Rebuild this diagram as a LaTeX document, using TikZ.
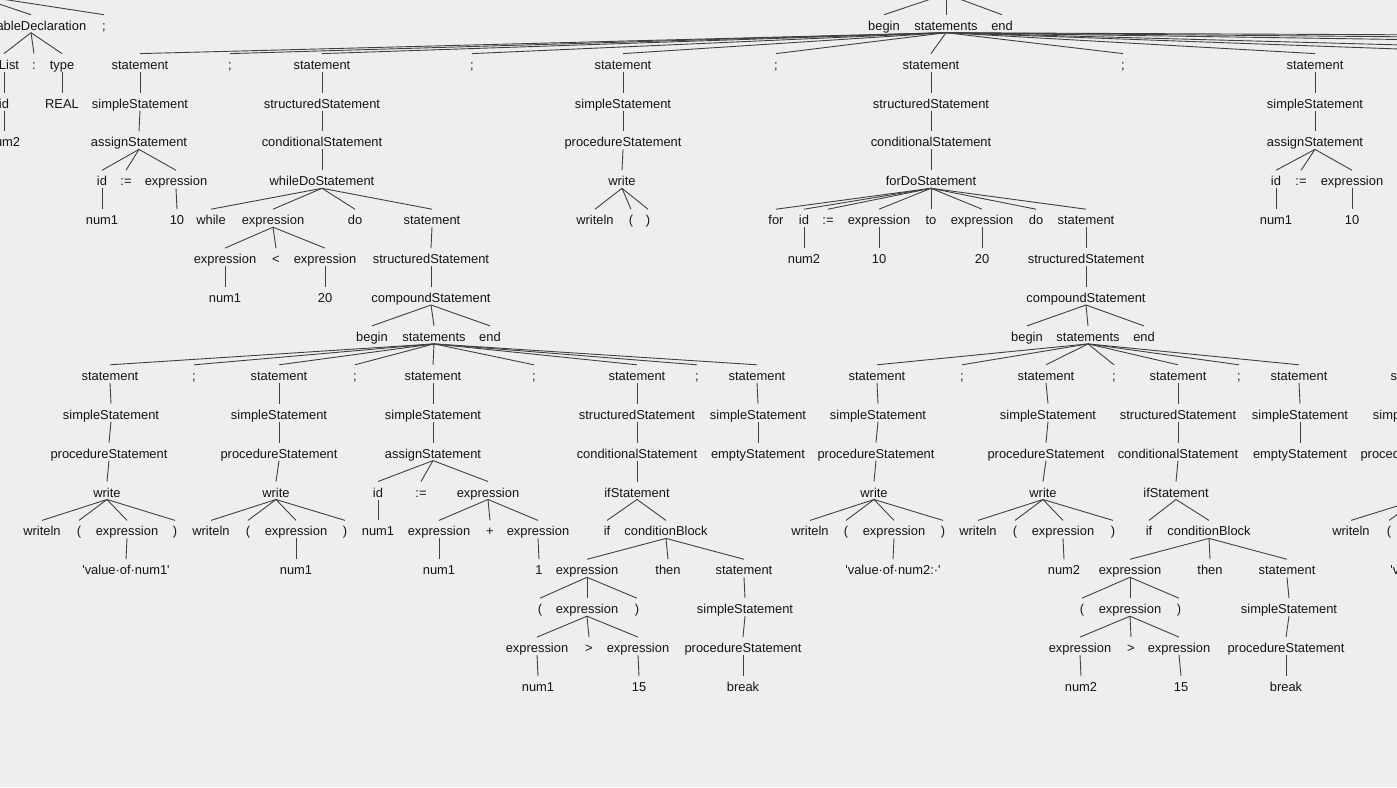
\documentclass[tikz,border=0pt]{standalone}
\usepackage{fontspec}
\newfontfamily\tf{Liberation Sans}
\definecolor{bgc}{RGB}{238,238,238}
\definecolor{lnc}{RGB}{64,64,64}
\definecolor{txc}{RGB}{20,20,20}
\tikzset{
  t/.style={anchor=base,inner sep=0pt,text=txc,font=\tf\fontsize{12.9}{14}\selectfont},
  ln/.style={draw=lnc,line width=0.9pt}
}
\newcommand\tnode[4]{\node[t] (#1) at (#2,{30.2+38.9*#3}) {#4};}
\newcommand\tedges[2]{\foreach \kid in {#2}{\draw[ln] ([yshift=-2.5pt]#1.base) -- ([yshift=15.5pt]\kid.base);}}
\begin{document}
\begin{tikzpicture}[x=1pt,y=-1pt]
\useasboundingbox (0,0) rectangle (1397,787);
\fill[bgc] (0,0) rectangle (1397,787);
\clip (0,0) rectangle (1397,787);
% ---------- top left (variable declaration) ----------
\coordinate (vp) at (-31,-6);
\tnode{vd}{31}{0}{variableDeclaration}
\tnode{vs}{104}{0}{;}
\tnode{il}{4}{1}{idList}
\tnode{co}{34}{1}{:}
\tnode{ty}{62}{1}{type}
\tnode{id0}{4}{2}{id}
\tnode{re}{62}{2}{REAL}
\tnode{n0}{4}{3}{num2}
\draw[ln] (vp) -- ([yshift=15.5pt]vd.base);
\draw[ln] (vp) -- ([yshift=15.5pt]vs.base);
\tedges{vd}{il,co,ty}
\tedges{il}{id0}
\tedges{ty}{re}
\tedges{id0}{n0}
% ---------- top compound statement ----------
\coordinate (cp) at (946,-6);
\tnode{bg}{884}{0}{begin}
\tnode{ss}{946}{0}{statements}
\tnode{en}{1002}{0}{end}
\draw[ln] (cp) -- ([yshift=15.5pt]bg.base);
\draw[ln] (cp) -- ([yshift=15.5pt]ss.base);
\draw[ln] (cp) -- ([yshift=15.5pt]en.base);
\tnode{s1}{140}{1}{statement}
\tnode{sc1}{230}{1}{;}
\tnode{s2}{322}{1}{statement}
\tnode{sc2}{472}{1}{;}
\tnode{s3}{623}{1}{statement}
\tnode{sc3}{776}{1}{;}
\tnode{s4}{931}{1}{statement}
\tnode{sc4}{1123}{1}{;}
\tnode{s5}{1315}{1}{statement}
\tedges{ss}{s1,sc1,s2,sc2,s3,sc3,s4,sc4,s5}
\coordinate (o1) at (1510,53);
\coordinate (o2) at (1700,53);
\coordinate (o3) at (2300,53);
\coordinate (o4) at (3200,53);
\coordinate (o5) at (5400,53);
\foreach \kid in {o1,o2,o3,o4,o5}{\draw[ln] ([yshift=-2.5pt]ss.base) -- (\kid);}
% ---------- s1 ----------
\tnode{s1ss}{140}{2}{simpleStatement}
\tnode{s1as}{139}{3}{assignStatement}
\tnode{s1id}{102}{4}{id}
\tnode{s1eq}{126}{4}{:=}
\tnode{s1ex}{176}{4}{expression}
\tnode{s1n}{102}{5}{num1}
\tnode{s1v}{177}{5}{10}
\tedges{s1}{s1ss}
\tedges{s1ss}{s1as}
\tedges{s1as}{s1id,s1eq,s1ex}
\tedges{s1id}{s1n}
\tedges{s1ex}{s1v}
% ---------- s2 (while) ----------
\tnode{s2st}{322}{2}{structuredStatement}
\tnode{s2cs}{322}{3}{conditionalStatement}
\tnode{wd}{322}{4}{whileDoStatement}
\tnode{wh}{211}{5}{while}
\tnode{we}{273}{5}{expression}
\tnode{wdo}{355}{5}{do}
\tnode{wst}{432}{5}{statement}
\tedges{s2}{s2st}
\tedges{s2st}{s2cs}
\tedges{s2cs}{wd}
\tedges{wd}{wh,we,wdo,wst}
\tnode{we1}{225}{6}{expression}
\tnode{wlt}{276}{6}{<}
\tnode{we2}{325}{6}{expression}
\tnode{wn}{225}{7}{num1}
\tnode{w20}{325}{7}{20}
\tedges{we}{we1,wlt,we2}
\tedges{we1}{wn}
\tedges{we2}{w20}
\tnode{wss}{431}{6}{structuredStatement}
\tnode{wcs}{431}{7}{compoundStatement}
\tnode{wb}{372}{8}{begin}
\tnode{wsts}{434}{8}{statements}
\tnode{wen}{490}{8}{end}
\tedges{wst}{wss}
\tedges{wss}{wcs}
\tedges{wcs}{wb,wsts,wen}
\tnode{a1}{110}{9}{statement}
\tnode{a2}{194}{9}{;}
\tnode{a3}{279}{9}{statement}
\tnode{a4}{355}{9}{;}
\tnode{a5}{433}{9}{statement}
\tnode{a6}{534}{9}{;}
\tnode{a7}{637}{9}{statement}
\tnode{a8}{697}{9}{;}
\tnode{a9}{757}{9}{statement}
\tedges{wsts}{a1,a2,a3,a4,a5,a6,a7,a8,a9}
% a1
\tnode{a1s}{111}{10}{simpleStatement}
\tnode{a1p}{109}{11}{procedureStatement}
\tnode{a1w}{107}{12}{write}
\tnode{a1wl}{42}{13}{writeln}
\tnode{a1lp}{79}{13}{(}
\tnode{a1e}{127}{13}{expression}
\tnode{a1rp}{175}{13}{)}
\tnode{a1str}{126}{14}{'value·of·num1'}
\tedges{a1}{a1s}
\tedges{a1s}{a1p}
\tedges{a1p}{a1w}
\tedges{a1w}{a1wl,a1lp,a1e,a1rp}
\tedges{a1e}{a1str}
% a3
\tnode{a3s}{279}{10}{simpleStatement}
\tnode{a3p}{279}{11}{procedureStatement}
\tnode{a3w}{276}{12}{write}
\tnode{a3wl}{211}{13}{writeln}
\tnode{a3lp}{248}{13}{(}
\tnode{a3e}{296}{13}{expression}
\tnode{a3rp}{345}{13}{)}
\tnode{a3n}{296}{14}{num1}
\tedges{a3}{a3s}
\tedges{a3s}{a3p}
\tedges{a3p}{a3w}
\tedges{a3w}{a3wl,a3lp,a3e,a3rp}
\tedges{a3e}{a3n}
% a5
\tnode{a5s}{433}{10}{simpleStatement}
\tnode{a5a}{433}{11}{assignStatement}
\tnode{a5id}{378}{12}{id}
\tnode{a5eq}{421}{12}{:=}
\tnode{a5e}{488}{12}{expression}
\tnode{a5n}{378}{13}{num1}
\tnode{a5e1}{439}{13}{expression}
\tnode{a5pl}{490}{13}{+}
\tnode{a5e2}{538}{13}{expression}
\tnode{a5n2}{439}{14}{num1}
\tnode{a5one}{539}{14}{1}
\tedges{a5}{a5s}
\tedges{a5s}{a5a}
\tedges{a5a}{a5id,a5eq,a5e}
\tedges{a5id}{a5n}
\tedges{a5e}{a5e1,a5pl,a5e2}
\tedges{a5e1}{a5n2}
\tedges{a5e2}{a5one}
% a7
\tnode{a7s}{637}{10}{structuredStatement}
\tnode{a7c}{637}{11}{conditionalStatement}
\tnode{a7i}{637}{12}{ifStatement}
\tnode{a7if}{607}{13}{if}
\tnode{a7cb}{666}{13}{conditionBlock}
\tnode{a7e}{587}{14}{expression}
\tnode{a7th}{668}{14}{then}
\tnode{a7st}{744}{14}{statement}
\tnode{a7lp}{540}{15}{(}
\tnode{a7e2}{587}{15}{expression}
\tnode{a7rp}{637}{15}{)}
\tnode{a7e3}{537}{16}{expression}
\tnode{a7gt}{589}{16}{>}
\tnode{a7e4}{638}{16}{expression}
\tnode{a7n}{538}{17}{num1}
\tnode{a7f}{639}{17}{15}
\tnode{a7ss}{745}{15}{simpleStatement}
\tnode{a7ps}{743}{16}{procedureStatement}
\tnode{a7br}{743}{17}{break}
\tedges{a7}{a7s}
\tedges{a7s}{a7c}
\tedges{a7c}{a7i}
\tedges{a7i}{a7if,a7cb}
\tedges{a7cb}{a7e,a7th,a7st}
\tedges{a7e}{a7lp,a7e2,a7rp}
\tedges{a7e2}{a7e3,a7gt,a7e4}
\tedges{a7e3}{a7n}
\tedges{a7e4}{a7f}
\tedges{a7st}{a7ss}
\tedges{a7ss}{a7ps}
\tedges{a7ps}{a7br}
% a9
\tnode{a9s}{758}{10}{simpleStatement}
\tnode{a9e}{758}{11}{emptyStatement}
\tedges{a9}{a9s}
\tedges{a9s}{a9e}
% ---------- s3 ----------
\tnode{s3ss}{623}{2}{simpleStatement}
\tnode{s3p}{623}{3}{procedureStatement}
\tnode{s3w}{622}{4}{write}
\tnode{s3wl}{595}{5}{writeln}
\tnode{s3lp}{631}{5}{(}
\tnode{s3rp}{648}{5}{)}
\tedges{s3}{s3ss}
\tedges{s3ss}{s3p}
\tedges{s3p}{s3w}
\tedges{s3w}{s3wl,s3lp,s3rp}
% ---------- s4 (for) ----------
\tnode{s4st}{931}{2}{structuredStatement}
\tnode{s4c}{931}{3}{conditionalStatement}
\tnode{fd}{931}{4}{forDoStatement}
\tnode{ffor}{776}{5}{for}
\tnode{fid}{804}{5}{id}
\tnode{feq}{828}{5}{:=}
\tnode{fe1}{879}{5}{expression}
\tnode{fto}{931}{5}{to}
\tnode{fe2}{982}{5}{expression}
\tnode{fdo}{1036}{5}{do}
\tnode{fst}{1086}{5}{statement}
\tnode{fn}{804}{6}{num2}
\tnode{f10}{879}{6}{10}
\tnode{f20}{982}{6}{20}
\tedges{s4}{s4st}
\tedges{s4st}{s4c}
\tedges{s4c}{fd}
\tedges{fd}{ffor,fid,feq,fe1,fto,fe2,fdo,fst}
\tedges{fid}{fn}
\tedges{fe1}{f10}
\tedges{fe2}{f20}
\tnode{fss}{1086}{6}{structuredStatement}
\tnode{fcs}{1086}{7}{compoundStatement}
\tnode{fb}{1027}{8}{begin}
\tnode{fsts}{1088}{8}{statements}
\tnode{fen}{1144}{8}{end}
\tedges{fst}{fss}
\tedges{fss}{fcs}
\tedges{fcs}{fb,fsts,fen}
\tnode{b1}{877}{9}{statement}
\tnode{b2}{962}{9}{;}
\tnode{b3}{1046}{9}{statement}
\tnode{b4}{1114}{9}{;}
\tnode{b5}{1178}{9}{statement}
\tnode{b6}{1239}{9}{;}
\tnode{b7}{1299}{9}{statement}
\tedges{fsts}{b1,b2,b3,b4,b5,b6,b7}
% b1
\tnode{b1s}{878}{10}{simpleStatement}
\tnode{b1p}{876}{11}{procedureStatement}
\tnode{b1w}{874}{12}{write}
\tnode{b1wl}{810}{13}{writeln}
\tnode{b1lp}{846}{13}{(}
\tnode{b1e}{894}{13}{expression}
\tnode{b1rp}{943}{13}{)}
\tnode{b1str}{893}{14}{'value·of·num2:·'}
\tedges{b1}{b1s}
\tedges{b1s}{b1p}
\tedges{b1p}{b1w}
\tedges{b1w}{b1wl,b1lp,b1e,b1rp}
\tedges{b1e}{b1str}
% b3
\tnode{b3s}{1048}{10}{simpleStatement}
\tnode{b3p}{1046}{11}{procedureStatement}
\tnode{b3w}{1043}{12}{write}
\tnode{b3wl}{978}{13}{writeln}
\tnode{b3lp}{1015}{13}{(}
\tnode{b3e}{1063}{13}{expression}
\tnode{b3rp}{1113}{13}{)}
\tnode{b3n}{1064}{14}{num2}
\tedges{b3}{b3s}
\tedges{b3s}{b3p}
\tedges{b3p}{b3w}
\tedges{b3w}{b3wl,b3lp,b3e,b3rp}
\tedges{b3e}{b3n}
% b5
\tnode{b5s}{1178}{10}{structuredStatement}
\tnode{b5c}{1178}{11}{conditionalStatement}
\tnode{b5i}{1176}{12}{ifStatement}
\tnode{b5if}{1149}{13}{if}
\tnode{b5cb}{1209}{13}{conditionBlock}
\tnode{b5e}{1130}{14}{expression}
\tnode{b5th}{1210}{14}{then}
\tnode{b5st}{1287}{14}{statement}
\tnode{b5lp}{1082}{15}{(}
\tnode{b5e2}{1130}{15}{expression}
\tnode{b5rp}{1179}{15}{)}
\tnode{b5e3}{1080}{16}{expression}
\tnode{b5gt}{1131}{16}{>}
\tnode{b5e4}{1179}{16}{expression}
\tnode{b5n}{1081}{17}{num2}
\tnode{b5f}{1181}{17}{15}
\tnode{b5ss}{1289}{15}{simpleStatement}
\tnode{b5ps}{1286}{16}{procedureStatement}
\tnode{b5br}{1286}{17}{break}
\tedges{b5}{b5s}
\tedges{b5s}{b5c}
\tedges{b5c}{b5i}
\tedges{b5i}{b5if,b5cb}
\tedges{b5cb}{b5e,b5th,b5st}
\tedges{b5e}{b5lp,b5e2,b5rp}
\tedges{b5e2}{b5e3,b5gt,b5e4}
\tedges{b5e3}{b5n}
\tedges{b5e4}{b5f}
\tedges{b5st}{b5ss}
\tedges{b5ss}{b5ps}
\tedges{b5ps}{b5br}
% b7
\tnode{b7s}{1300}{10}{simpleStatement}
\tnode{b7e}{1300}{11}{emptyStatement}
\tedges{b7}{b7s}
\tedges{b7s}{b7e}
% ---------- s5 ----------
\tnode{s5ss}{1315}{2}{simpleStatement}
\tnode{s5a}{1315}{3}{assignStatement}
\tnode{s5id}{1276}{4}{id}
\tnode{s5eq}{1301}{4}{:=}
\tnode{s5e}{1352}{4}{expression}
\tnode{s5n}{1276}{5}{num1}
\tnode{s5v}{1352}{5}{10}
\tedges{s5}{s5ss}
\tedges{s5ss}{s5a}
\tedges{s5a}{s5id,s5eq,s5e}
\tedges{s5id}{s5n}
\tedges{s5e}{s5v}
% ---------- right edge, partly visible ----------
\tnode{c1}{1419}{9}{statement}
\tnode{c1s}{1421}{10}{simpleStatement}
\tnode{c1p}{1419}{11}{procedureStatement}
\tnode{c1w}{1418}{12}{write}
\tnode{c1wl}{1351}{13}{writeln}
\tnode{c1lp}{1389}{13}{(}
\tnode{c1e}{1438}{13}{expression}
\tnode{c1rp}{1486}{13}{)}
\tnode{c1str}{1438}{14}{'value·of·num1:·'}
\tedges{c1}{c1s}
\tedges{c1s}{c1p}
\tedges{c1p}{c1w}
\tedges{c1w}{c1wl,c1lp,c1e,c1rp}
\tedges{c1e}{c1str}
\end{tikzpicture}
\end{document}
